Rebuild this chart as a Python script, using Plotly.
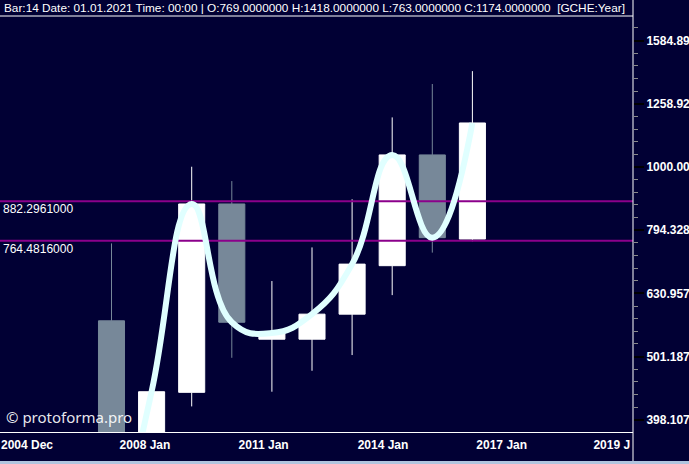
import math
import plotly.graph_objects as go

# ---- data (yearly candles) ----
years = [2012, 2013, 2014, 2015, 2016, 2017, 2018, 2019, 2020, 2021]
open_ = [571, 230, 440, 874, 534, 534, 585, 698, 1045, 769]
high = [757, 441, 1001, 950, 660, 746, 889, 1198, 1353, 1418]
low = [225, 225, 418, 499, 441, 476, 504, 627, 732, 763]
close = [230, 441, 874, 568, 546, 585, 702, 1045, 773, 1174]

levels = [882.2961, 764.4816]
level_labels = ["882.2961000", "764.4816000"]

y_tickvals = [1584.893, 1258.925, 1000.0, 794.328, 630.957, 501.187, 398.107]
y_ticktext = ["1584.89", "1258.92", "1000.00", "794.328", "630.957", "501.187", "398.107"]

x_ticktext = ["2004 Dec", "2008 Jan", "2011 Jan", "2014 Jan", "2017 Jan", "2019 J"]
x_tickvals = [2009.893, 2012.835, 2015.793, 2018.771, 2021.731, 2024.476]

header = ("Bar:14 Date: 01.01.2021 Time: 00:00 | O:769.0000000 H:1418.0000000 "
          "L:763.0000000 C:1174.0000000  [GCHE:Year]")
watermark = "© protoforma.pro"

# ---- style ----
NAVY = "#010034"
UP = "#FFFFFF"
DOWN = "#778899"
CURVE = "#E0FFFF"
LEVEL = "#8B008B"
STRIP = "#B0C4DE"
FONT = "Liberation Sans, Arial, sans-serif"

W, H = 689, 464
ML, MR, MT, MB = 0, 56, 16, 32
plot_h = H - MT - MB
pw = W - ML - MR
strip_top = -(461 - (H - MB)) / plot_h  # paper y of pixel row 461

x_range = [2009.2195, 2025.005]
y_range = [2.5807, 3.2389]

fig = go.Figure()

fig.add_trace(go.Candlestick(
    x=years, open=open_, high=high, low=low, close=close,
    increasing=dict(fillcolor=UP, line=dict(color=UP, width=1)),
    decreasing=dict(fillcolor=DOWN, line=dict(color=DOWN, width=1)),
    whiskerwidth=0, showlegend=False, hoverinfo="skip",
))

for lvl in levels:
    fig.add_trace(go.Scatter(
        x=x_range, y=[lvl, lvl], mode="lines",
        line=dict(color=LEVEL, width=2), showlegend=False, hoverinfo="skip",
    ))

fig.add_trace(go.Scatter(
    x=years, y=close, mode="lines",
    line=dict(color=CURVE, width=6, shape="spline", smoothing=1.3),
    showlegend=False, hoverinfo="skip",
))

annotations = []
for lvl, lab in zip(levels, level_labels):
    annotations.append(dict(
        text=lab, xref="paper", x=0, xshift=1, xanchor="left",
        yref="y", y=math.log10(lvl), yanchor="top", yshift=1,
        showarrow=False, font=dict(family=FONT, size=12, color="white"),
    ))
annotations.append(dict(
    text=header, xref="paper", x=0, xshift=2, xanchor="left",
    yref="paper", y=1 + 8 / plot_h, yanchor="middle",
    showarrow=False, font=dict(family=FONT, size=11.8, color="white"),
))
annotations.append(dict(
    text=watermark, xref="paper", x=0, xshift=4, xanchor="left",
    yref="paper", y=(15) / plot_h, yanchor="middle",
    showarrow=False, font=dict(family="Noto Sans, Open Sans, sans-serif", size=15,
                               color="rgba(255,255,255,0.92)"),
))

shapes = [
    # navy panel over the whole figure except the bottom light strip
    dict(type="rect", xref="paper", yref="paper", x0=-0.05, x1=1.2,
         y0=strip_top, y1=1.2, fillcolor=NAVY, line=dict(width=0), layer="below"),
    # right axis separator line
    dict(type="line", xref="paper", yref="paper", x0=1, x1=1,
         y0=strip_top, y1=1 + (MT + 2) / plot_h,
         line=dict(color="white", width=1), layer="above"),
    # header separator line
    dict(type="line", xref="paper", yref="paper", x0=0, x1=1,
         y0=1, y1=1, line=dict(color="white", width=1), layer="above"),
]

fig.update_layout(
    width=W, height=H,
    margin=dict(l=ML, r=MR, t=MT, b=MB, pad=0),
    paper_bgcolor=STRIP, plot_bgcolor=NAVY,
    boxgap=0.35, boxgroupgap=0,
    showlegend=False,
    annotations=annotations,
    shapes=shapes,
    xaxis=dict(
        range=x_range, rangeslider=dict(visible=False),
        showgrid=False, zeroline=False,
        showline=True, linecolor="white", linewidth=1,
        tickmode="array", tickvals=x_tickvals, ticktext=x_ticktext,
        ticks="", ticklabelstandoff=2,
        tickfont=dict(family=FONT, size=12, color="white", weight="bold"),
    ),
    yaxis=dict(
        type="log", side="right", range=y_range,
        showgrid=False, zeroline=False, showline=False,
        tickmode="array", tickvals=y_tickvals, ticktext=y_ticktext,
        ticks="outside", ticklen=10, tickwidth=2, tickcolor="black",
        tickfont=dict(family=FONT, size=12, color="white", weight="bold"),
        minor=dict(ticks="outside", ticklen=4, tickwidth=1, tickcolor="#8A8A8A",
                   tick0=3, dtick=0.02, showgrid=False),
    ),
)

fig.write_html(
    "out.html",
    config={"displayModeBar": False},
    post_script="document.body.style.margin='0';document.body.style.overflow='hidden';",
)
